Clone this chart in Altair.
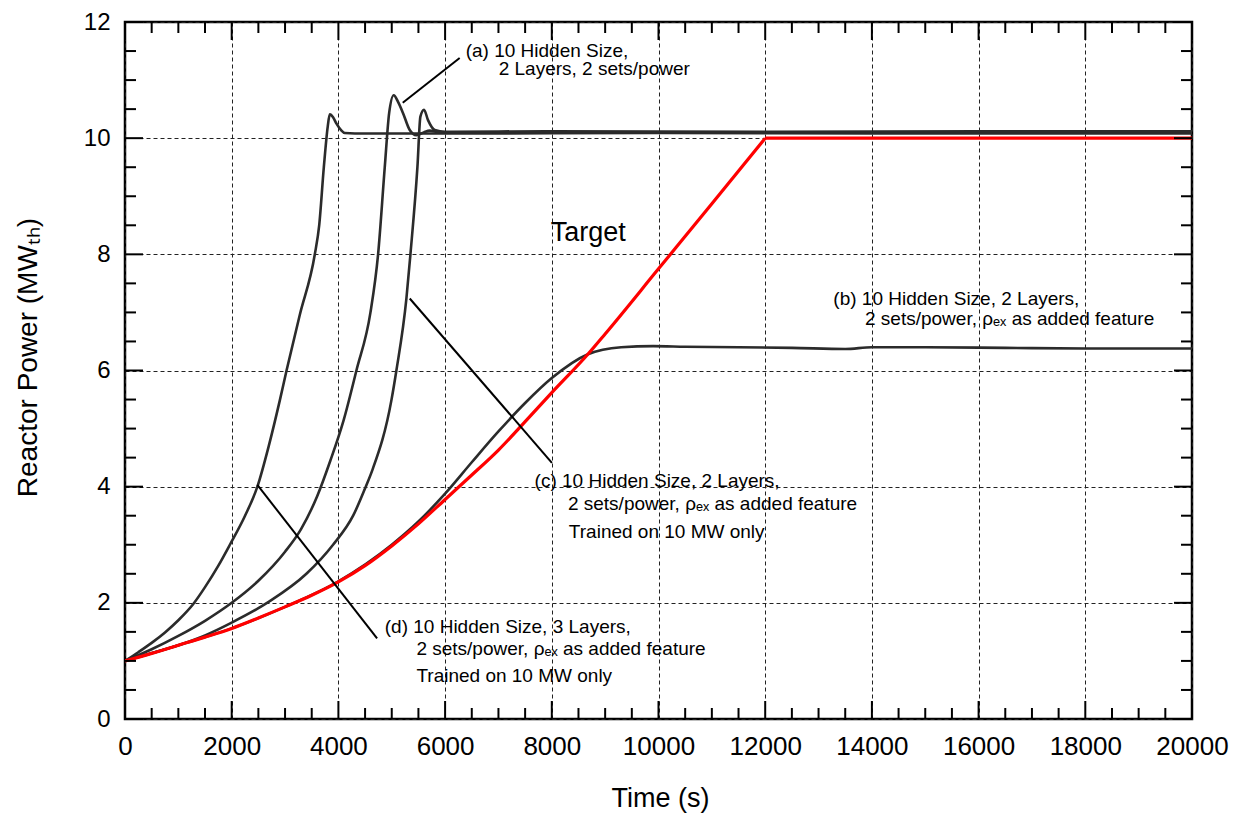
import altair as alt
import pandas as pd

# ---------------- data ----------------
# Target: ramp part and flat part
t_target = [0, 500, 1000, 1500, 2000, 2500, 3000, 3500, 4000, 4500, 5000, 5500, 6000, 6500,
            7000, 7500, 8000, 8676, 9000, 10000, 11000, 12000]
p_target = [1.0, 1.13, 1.27, 1.41, 1.56, 1.74, 1.93, 2.13, 2.36, 2.64, 2.98, 3.36, 3.78, 4.2,
            4.63, 5.12, 5.62, 6.28, 6.63, 7.75, 8.87, 10.0]
t_target_flat = [12000, 14000, 16000, 18000, 20000]
p_target_flat = [10.0, 10.0, 10.0, 10.0, 10.0]

t_b = [0, 1000, 2000, 3000, 4000, 5000, 5500, 6000, 6500, 7000, 7500, 8000, 8676, 9300, 9900,
       10500, 11500, 12500, 13500, 14000, 15000, 16500, 18000, 20000]
p_b = [1.0, 1.27, 1.56, 1.93, 2.37, 3.0, 3.4, 3.88, 4.42, 4.95, 5.44, 5.87, 6.28, 6.40, 6.42,
       6.41, 6.40, 6.39, 6.37, 6.40, 6.40, 6.39, 6.38, 6.38]

t_d = [0, 250, 500, 750, 1000, 1280, 1500, 1750, 1966, 2250, 2481, 2700, 2903, 3028, 3277,
       3558, 3640, 3727, 3800, 3839, 3900, 3964, 4050, 4120, 4500, 6000, 10000, 14000, 20000]
p_d = [1.0, 1.15, 1.31, 1.49, 1.7, 1.98, 2.27, 2.64, 3.0, 3.5, 4.0, 4.72, 5.49, 6.0, 6.96,
       8.0, 8.5, 9.5, 10.2, 10.41, 10.36, 10.25, 10.14, 10.09, 10.08, 10.08, 10.09, 10.08, 10.08]

t_a = [0, 500, 1000, 1500, 2000, 2500, 3000, 3300, 3600, 3850, 4100, 4338, 4601, 4744, 4869,
       4951, 5037, 5120, 5212, 5337, 5462, 5600, 5712, 5900, 8000, 12000, 16000, 20000]
p_a = [1.0, 1.2, 1.43, 1.69, 2.0, 2.38, 2.88, 3.27, 3.83, 4.45, 5.15, 6.0, 7.0, 8.0, 9.5,
       10.43, 10.74, 10.62, 10.43, 10.14, 10.05, 10.1, 10.13, 10.1, 10.1, 10.1, 10.1, 10.1]

t_c = [0, 500, 1000, 1500, 2000, 2700, 3400, 3900, 4276, 4513, 4638, 4994, 5087, 5275, 5350,
       5481, 5537, 5605, 5680, 5805, 6000, 8000, 12000, 16000, 20000]
p_c = [1.0, 1.13, 1.27, 1.44, 1.66, 2.02, 2.5, 3.0, 3.5, 4.0, 4.29, 5.49, 6.0, 7.24, 8.0,
       9.5, 10.37, 10.49, 10.31, 10.14, 10.11, 10.12, 10.11, 10.12, 10.12]

# leader lines (start -> end)
lead_t1 = [6273, 5337, 2481]
lead_p1 = [11.38, 7.24, 4.03]
lead_t2 = [5206, 8002, 4725]
lead_p2 = [10.61, 4.41, 1.39]

RHO = "\u03c1\u2091\u2093"
ann_text = ["(a) 10 Hidden Size,", "2 Layers, 2 sets/power",
            "(b) 10 Hidden Size, 2 Layers,", "2 sets/power, " + RHO + " as added feature",
            "(c) 10 Hidden Size, 2 Layers,", "2 sets/power, " + RHO + " as added feature",
            "Trained on 10 MW only",
            "(d) 10 Hidden Size, 3 Layers,", "2 sets/power, " + RHO + " as added feature",
            "Trained on 10 MW only",
            "Target"]
ann_t = [6386, 7004, 13277, 13871, 7678, 8302, 8320, 4869, 5462, 5462, 7978]
ann_p = [11.40, 11.08, 7.13, 6.78, 4.0, 3.60, 3.11, 1.475, 1.10, 0.64, 8.23]
ann_size = [19, 19, 19, 19, 19, 19, 19, 19, 19, 19, 27]

x_major = list(range(0, 20001, 2000))
x_minor = [v for v in range(0, 20001, 500) if v % 2000 != 0]
y_major = [0, 2, 4, 6, 8, 10, 12]
y_minor = [v / 2 for v in range(0, 25) if v % 4 != 0]

# ---------------- build ----------------
FONT = "Liberation Sans"
W, H = 1067, 697
MAJ, MIN = 18, 11

rows = []
for name, ts, ps in [("b", t_b, p_b), ("d", t_d, p_d), ("a", t_a, p_a), ("c", t_c, p_c)]:
    for t, p in zip(ts, ps):
        rows.append({"t": t, "P": p, "series": name})
black_df = pd.DataFrame(rows)
red_rows = [{"t": t, "P": p, "seg": "ramp"} for t, p in zip(t_target, p_target)] + \
           [{"t": t, "P": p, "seg": "flat"} for t, p in zip(t_target_flat, p_target_flat)]
red_df = pd.DataFrame(red_rows)
lead_df = pd.DataFrame({"t": lead_t1, "P": lead_p1, "t2": lead_t2, "P2": lead_p2})
ann_df = pd.DataFrame({"t": ann_t, "P": ann_p, "text": ann_text, "fs": ann_size})

xs = alt.Scale(domain=[0, 20000], nice=False, zero=False)
ys = alt.Scale(domain=[0, 12], nice=False, zero=False)

x_axis = alt.Axis(values=x_major, format="d", grid=True, gridDash=[4, 3], gridColor="#222222",
                  gridWidth=1, ticks=False, tickSize=0, domain=False,
                  labelFont=FONT, labelFontSize=26, labelPadding=14, labelColor="black",
                  labelFlush=False, labelOverlap=False,
                  title="Time (s)", titleFont=FONT, titleFontSize=27, titleFontWeight="normal",
                  titleColor="black", titleX=535, titleY=79, titleBaseline="middle",
                  titleAlign="center")
y_axis = alt.Axis(values=y_major, format="d", grid=True, gridDash=[4, 3], gridColor="#222222",
                  gridWidth=1, ticks=False, tickSize=0, domain=False,
                  labelFont=FONT, labelFontSize=24, labelPadding=15, labelColor="black",
                  labelFlush=False, labelOverlap=False,
                  title="Reactor Power (MW\u209c\u2095)", titleFont=FONT, titleFontSize=28,
                  titleFontWeight="normal", titleColor="black", titleAngle=270,
                  titleX=-97, titleY=335, titleBaseline="middle", titleAlign="center")

X = alt.X("t:Q", scale=xs, axis=x_axis)
Y = alt.Y("P:Q", scale=ys, axis=y_axis)

black = alt.Chart(black_df).mark_line(color="#2b2b2b", strokeWidth=2.6, interpolate="monotone",
                                      clip=True).encode(x=X, y=Y, detail="series:N")
red = alt.Chart(red_df).mark_line(color="#ff0000", strokeWidth=3.2, interpolate="monotone",
                                  clip=True).encode(x=X, y=Y, detail="seg:N")
leaders = alt.Chart(lead_df).mark_rule(color="black", strokeWidth=2).encode(
    x=X, y=Y, x2="t2:Q", y2="P2:Q")
texts = alt.Chart(ann_df).mark_text(align="left", baseline="alphabetic", font=FONT,
                                    color="black").encode(
    x=X, y=Y, text="text:N", size=alt.Size("fs:Q", scale=None))

def xticks(vals, length):
    d = pd.DataFrame({"t": vals})
    bot = alt.Chart(d).mark_rule(color="black", strokeWidth=2).encode(
        x=X, y=alt.value(H), y2=alt.value(H - length))
    top = alt.Chart(d).mark_rule(color="black", strokeWidth=2).encode(
        x=X, y=alt.value(0), y2=alt.value(length))
    return [bot, top]

def yticks(vals, length):
    d = pd.DataFrame({"P": vals})
    left = alt.Chart(d).mark_rule(color="black", strokeWidth=2).encode(
        y=Y, x=alt.value(0), x2=alt.value(length))
    right = alt.Chart(d).mark_rule(color="black", strokeWidth=2).encode(
        y=Y, x=alt.value(W), x2=alt.value(W - length))
    return [left, right]

layers = [black, red, leaders, texts] + xticks(x_major, MAJ) + xticks(x_minor, MIN) \
    + yticks(y_major, MAJ) + yticks(y_minor, MIN)

chart = alt.layer(*layers).properties(
    width=W, height=H,
    autosize=alt.AutoSizeParams(type="none"),
    padding={"left": 125, "top": 22, "right": 42, "bottom": 95},
    background="white",
).configure_view(stroke="black", strokeWidth=2.5)

chart.save("out.html", embed_options={"renderer": "svg", "actions": False})
